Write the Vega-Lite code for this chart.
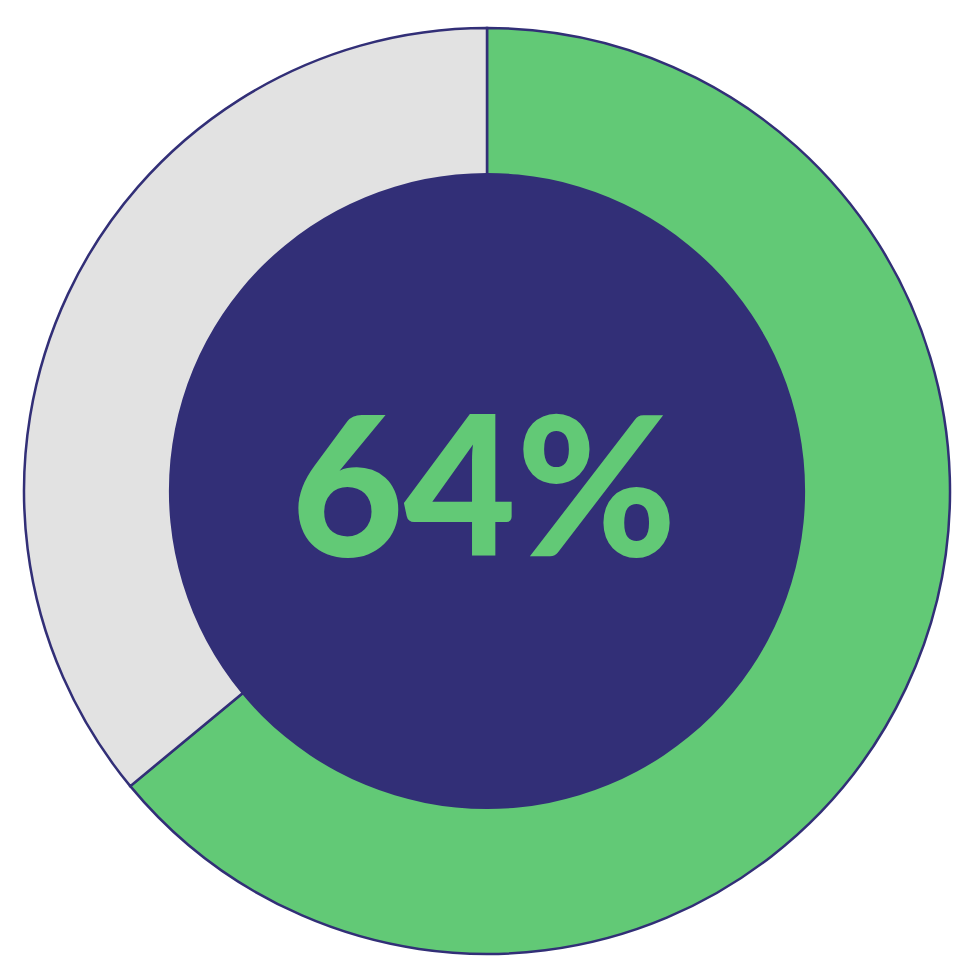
{
  "$schema": "https://vega.github.io/schema/vega-lite/v6.json",
  "width": 970,
  "height": 980,
  "autosize": {"type": "fit", "contains": "padding"},
  "padding": {"left": 4, "top": 2, "right": 0, "bottom": 0},
  "background": "#ffffff",
  "view": {"stroke": null},
  "layer": [
    {
      "data": {"values": [
        {"category": "Yes", "value": 64, "rank": 1},
        {"category": "No", "value": 36, "rank": 2}
      ]},
      "mark": {"type": "arc", "outerRadius": 463, "innerRadius": 300, "stroke": "#322F77", "strokeWidth": 2.5},
      "encoding": {
        "theta": {"field": "value", "type": "quantitative", "stack": true},
        "order": {"field": "rank", "type": "quantitative"},
        "color": {
          "field": "category",
          "type": "nominal",
          "scale": {"domain": ["Yes", "No"], "range": ["#62C976", "#E2E2E2"]},
          "legend": null
        }
      }
    },
    {
      "data": {"values": [{"label": "inner"}]},
      "mark": {"type": "arc", "theta": 0, "theta2": 6.2832, "outerRadius": 318, "innerRadius": 0, "fill": "#322F77"},
      "encoding": {}
    },
    {
      "data": {"values": [{"label": "64%"}]},
      "mark": {"type": "text", "font": "Lato", "fontWeight": 900, "fontSize": 194, "color": "#62C976", "align": "center", "baseline": "middle", "dx": -3, "dy": 7},
      "encoding": {"text": {"field": "label", "type": "nominal"}}
    }
  ]
}
